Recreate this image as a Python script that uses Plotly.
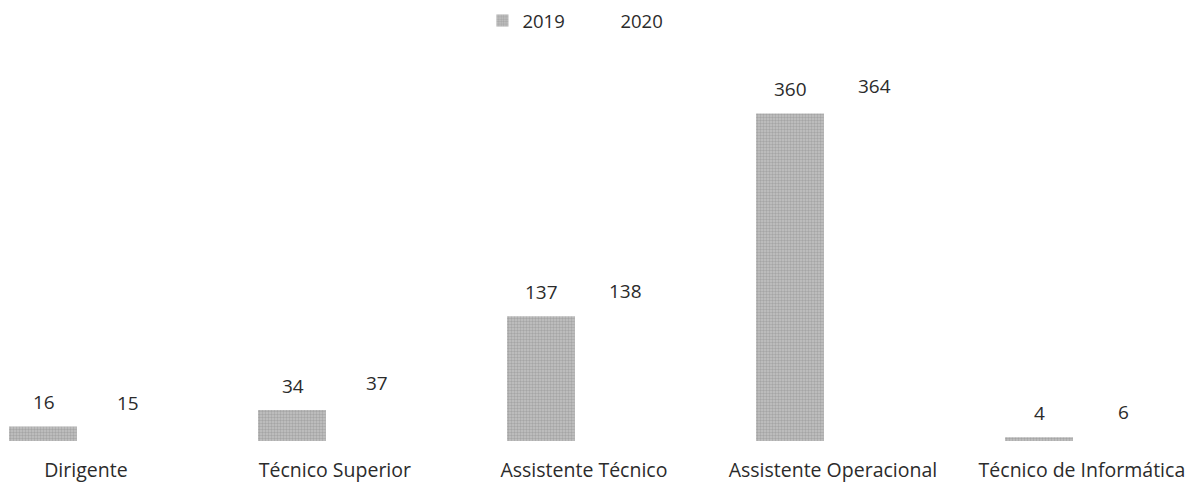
import plotly.graph_objects as go

categories = ["Dirigente", "Técnico Superior", "Assistente Técnico",
              "Assistente Operacional", "Técnico de Informática"]
values_2019 = [16, 34, 137, 360, 4]
values_2020 = [15, 37, 138, 364, 6]
series_names = ["2019", "2020"]

FONT = "Open Sans"
TXT = "#2b2b2b"

fig = go.Figure()
fig.add_trace(go.Bar(
    x=categories, y=values_2019, name=series_names[0],
    marker=dict(color="#aaaaaa", line=dict(width=0),
                pattern=dict(shape=".", fgcolor="#858585", bgcolor="#c4c4c4",
                             size=3, solidity=0.5)),
))
fig.add_trace(go.Bar(
    x=categories, y=values_2020, name=series_names[1],
    marker=dict(color="#ffffff", line=dict(width=0)),
))

annotations = []
for i, c in enumerate(categories):
    for v, dx in ((values_2019[i], -42), (values_2020[i], 42)):
        annotations.append(dict(
            x=c, y=v, xref="x", yref="y", text=str(v), showarrow=False,
            xshift=dx, yshift=24, yanchor="middle",
            font=dict(family=FONT, size=19, color=TXT)))

fig.update_layout(
    width=1187, height=484,
    margin=dict(l=0, r=0, t=77, b=43, autoexpand=False),
    paper_bgcolor="white", plot_bgcolor="white",
    barmode="group", bargap=0.31, bargroupgap=0.21,
    font=dict(family=FONT, size=19, color=TXT),
    showlegend=True,
    legend=dict(orientation="h", x=0.489, xanchor="center", y=1.154, yanchor="middle",
                font=dict(family=FONT, size=18.5, color=TXT),
                entrywidth=53, entrywidthmode="pixels", tracegroupgap=0),
    xaxis=dict(range=[-0.345, 4.422], showgrid=False, zeroline=False, showline=False,
               ticks="", ticklabelstandoff=15,
               tickfont=dict(family=FONT, size=19.5, color=TXT)),
    yaxis=dict(range=[0, 400], visible=False),
    annotations=annotations,
)

fig.write_html("out.html", config={"displayModeBar": False},
               post_script="document.body.style.margin='0px';document.body.style.overflow='hidden';")
